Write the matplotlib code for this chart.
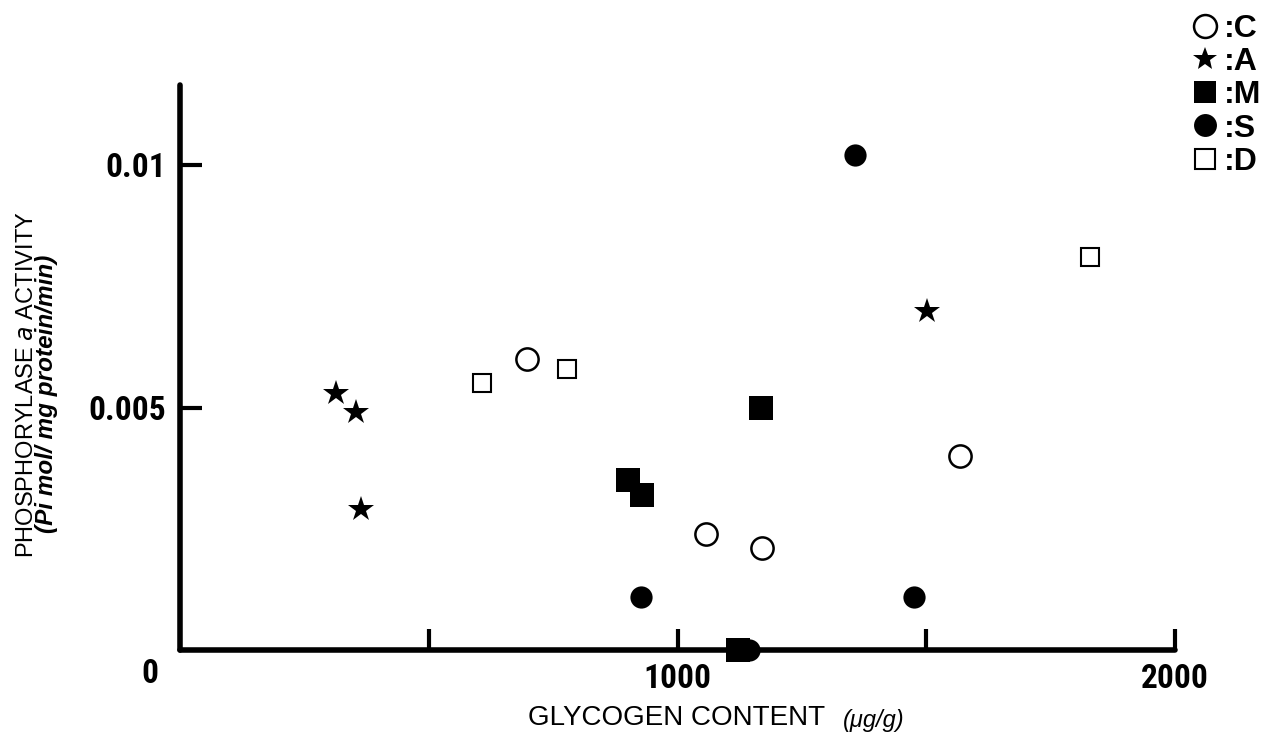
import matplotlib.pyplot as plt
from matplotlib.lines import Line2D

# glycogen content (ug/g) vs phosphorylase a activity, per group
c_x = [697, 1057, 1170, 1568]
c_y = [0.0060, 0.0024, 0.0021, 0.0040]
a_x = [314, 354, 364, 1502]
a_y = [0.0053, 0.0049, 0.0029, 0.0070]
m_x = [900, 929, 1168, 1122]
m_y = [0.0035, 0.0032, 0.0050, 0.0]
s_x = [1357, 927, 1475, 1144]
s_y = [0.0102, 0.0011, 0.0011, 0.0]
d_x = [607, 778, 1829]
d_y = [0.0055, 0.0058, 0.0081]

group_labels = [':C', ':A', ':M', ':S', ':D']
x_ticks = [500, 1000, 1500, 2000]
x_tick_labels = ['', '1000', '', '2000']
y_ticks = [0.005, 0.01]
y_tick_labels = ['0.005', '0.01']

cond = ['Roboto Condensed', 'DejaVu Sans']
sans = ['Liberation Sans', 'DejaVu Sans']

fig = plt.figure(figsize=(12.74, 7.44), dpi=100)
ax = fig.add_axes([0.1413, 0.1263, 0.7810, 0.7595])

# marker styles for C, A, M, S, D
styles = [
    dict(marker='o', markersize=16, markerfacecolor='white', markeredgewidth=1.8),
    dict(marker='*', markersize=19, markeredgewidth=0),
    dict(marker='s', markersize=17, markeredgewidth=0),
    dict(marker='o', markersize=16, markeredgewidth=0),
    dict(marker='s', markersize=12.5, markerfacecolor='white', markeredgewidth=1.5),
]
legend_sizes = [16.5, 18, 16, 16.5, 14]
series = [(c_x, c_y), (a_x, a_y), (m_x, m_y), (s_x, s_y), (d_x, d_y)]
for (xs, ys), st in zip(series, styles):
    ax.plot(xs, ys, color='black', linestyle='none', clip_on=False,
            zorder=5, **st)

ax.set_xlim(0, 2000)
ax.set_ylim(0, 0.01165)
for side in ['top', 'right']:
    ax.spines[side].set_visible(False)
for side in ['left', 'bottom']:
    ax.spines[side].set_linewidth(4)
    ax.spines[side].set_capstyle('round')

ax.set_xticks(x_ticks)
ax.set_xticklabels(x_tick_labels)
ax.set_yticks(y_ticks)
ax.set_yticklabels(y_tick_labels)
ax.tick_params(axis='x', direction='in', length=15, width=3, pad=9)
ax.tick_params(axis='y', direction='in', length=16, width=3, pad=10)
for lab in ax.get_xticklabels() + ax.get_yticklabels():
    lab.set_family(cond)
    lab.set_fontsize(24)
    lab.set_fontweight('bold')
ax.annotate('0', xy=(0, 0), xytext=(-22, -17.5), textcoords='offset points',
            ha='center', va='center', fontsize=24, fontweight='bold',
            family=cond)

fig.text(528 / 1274, 1 - 718 / 744, 'GLYCOGEN CONTENT', ha='left',
         va='center', fontsize=20, family=sans)
fig.text(843 / 1274, 1 - 720 / 744, '(μg/g)', ha='left', va='center',
         fontsize=17, style='italic', family=sans)

fig.text(27 / 1274, 1 - 385 / 744, 'PHOSPHORYLASE $\\it{a}$ ACTIVITY',
         rotation=90, ha='center', va='center', fontsize=17, family=sans)
fig.text(47 / 1274, 1 - 394 / 744, '(Pi mol/ mg protein/min)', rotation=90,
         ha='center', va='center', fontsize=17.5, style='italic',
         fontweight='bold', family=sans)

handles = []
for st, size in zip(styles, legend_sizes):
    st = dict(st, markersize=size)
    handles.append(Line2D([], [], color='black', linestyle='none', **st))
fig.legend(handles, group_labels, loc='upper left',
           bbox_to_anchor=(1193 / 1274, 1 - 14 / 744), frameon=False,
           handlelength=0.75, handletextpad=0.23, labelspacing=0.1,
           borderpad=0, borderaxespad=0,
           prop={'family': sans, 'weight': 'bold', 'size': 23})

fig.savefig('out.png', dpi=100)
